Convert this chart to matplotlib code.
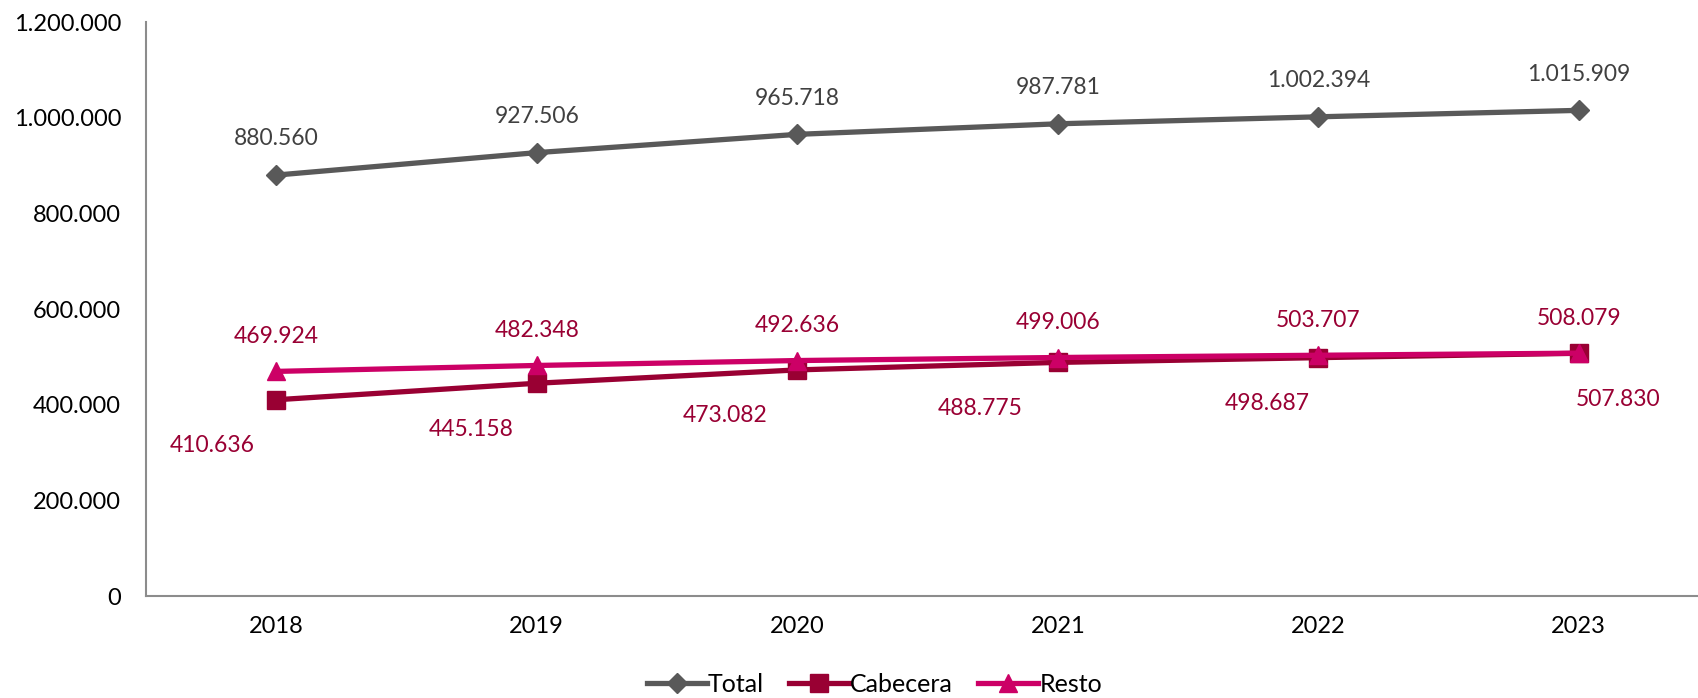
import matplotlib.pyplot as plt
from matplotlib.ticker import FuncFormatter

plt.rcParams['font.family'] = ['Lato', 'DejaVu Sans']

years = ['2018', '2019', '2020', '2021', '2022', '2023']
total = [880560, 927506, 965718, 987781, 1002394, 1015909]
cabecera = [410636, 445158, 473082, 488775, 498687, 507830]
resto = [469924, 482348, 492636, 499006, 503707, 508079]

gray = '#595959'
wine = '#990033'
pink = '#CC0066'


def fmt(v):
    return f'{v:,.0f}'.replace(',', '.')


fig = plt.figure(figsize=(16.98, 6.98), dpi=100)
ax = fig.add_axes([0.086, 0.146, 0.9205, 0.822])
x = range(len(years))

ax.plot(x, total, color=gray, lw=3.8, marker='D', ms=10, label='Total', zorder=3)
ax.plot(x, cabecera, color=wine, lw=3.8, marker='s', ms=13.5, label='Cabecera', zorder=3)
ax.plot(x, resto, color=pink, lw=3.8, marker='^', ms=13, label='Resto', zorder=4)

for i, v in enumerate(total):
    ax.annotate(fmt(v), (i, v), xytext=(0, 26), textcoords='offset points',
                ha='center', va='center', fontsize=16.5, color='#404040')
for i, v in enumerate(resto):
    ax.annotate(fmt(v), (i, v), xytext=(0, 25), textcoords='offset points',
                ha='center', va='center', fontsize=16.5, color=wine)
cab_dx = [-46, -47, -52, -56, -37, 28]
for i, v in enumerate(cabecera):
    ax.annotate(fmt(v), (i, v), xytext=(cab_dx[i], -33), textcoords='offset points',
                ha='center', va='center', fontsize=16.5, color=wine)

ax.set_xlim(-0.5, 5.5)
ax.set_ylim(0, 1200000)
ax.set_yticks(range(0, 1200001, 200000))
ax.yaxis.set_major_formatter(FuncFormatter(lambda v, p: fmt(v)))
ax.set_xticks(list(x))
ax.set_xticklabels(years)
ax.tick_params(length=0, labelsize=17, pad=14)
ax.tick_params(axis='y', pad=18)
for s in ['top', 'right']:
    ax.spines[s].set_visible(False)
for s in ['left', 'bottom']:
    ax.spines[s].set_color('#8c8c8c')
    ax.spines[s].set_linewidth(1.5)

fig.legend(loc='center', bbox_to_anchor=(0.515, 0.019), ncol=3, frameon=False,
           fontsize=18, handlelength=2.4, handletextpad=0.05, columnspacing=1.0)

fig.savefig('out.png')
